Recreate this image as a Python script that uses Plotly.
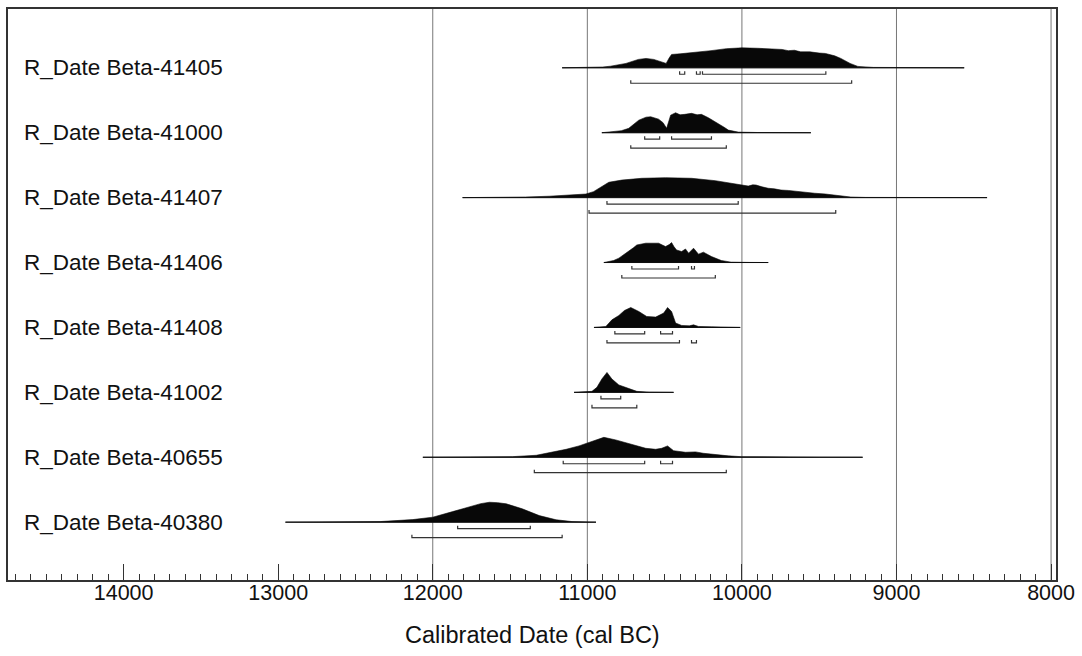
import plotly.graph_objects as go

# ---------------- data ----------------
labels = ["R_Date Beta-41405", "R_Date Beta-41000", "R_Date Beta-41407",
          "R_Date Beta-41406", "R_Date Beta-41408", "R_Date Beta-41002",
          "R_Date Beta-40655", "R_Date Beta-40380"]

b41405_years = [11163, 11000, 10900, 10850, 10750, 10670, 10620, 10570, 10520, 10490, 10470, 10455,
                10400, 10350, 10280, 10200, 10100, 10000, 9900, 9800, 9740, 9700, 9660, 9620, 9560,
                9500, 9460, 9400, 9360, 9300, 9250, 9150, 9000, 8800, 8562]
b41405_prob = [0, 0.01, 0.04, 0.08, 0.22, 0.42, 0.47, 0.42, 0.30, 0.22, 0.50, 0.67,
               0.70, 0.74, 0.77, 0.86, 0.96, 1.0, 0.98, 0.95, 0.92, 0.86, 0.88, 0.80, 0.80,
               0.74, 0.72, 0.60, 0.47, 0.22, 0.07, 0.02, 0.008, 0.003, 0]
b41405_r68 = [[10403, 10370], [10294, 10270], [10255, 9457]]
b41405_r95 = [[10719, 9290]]

b41000_years = [10906, 10841, 10780, 10732, 10690, 10667, 10620, 10590, 10539, 10510, 10487, 10470,
                10461, 10429, 10400, 10370, 10326, 10290, 10262, 10217, 10152, 10110, 10088, 10024,
                9900, 9700, 9554]
b41000_prob = [0, 0.04, 0.10, 0.22, 0.50, 0.63, 0.78, 0.80, 0.68, 0.50, 0.22, 0.60,
               0.88, 1.0, 0.90, 0.92, 0.97, 0.90, 0.92, 0.75, 0.47, 0.25, 0.13, 0.03,
               0.01, 0.005, 0]
b41000_r68 = [[10629, 10532], [10455, 10197]]
b41000_r95 = [[10719, 10101]]

b41407_years = [11807, 11600, 11400, 11247, 11100, 11009, 10960, 10925, 10861, 10777, 10648, 10494,
                10326, 10172, 10100, 10043, 9980, 9959, 9930, 9908, 9870, 9830, 9790, 9747, 9700,
                9637, 9580, 9530, 9460, 9399, 9296, 9200, 9000, 8700, 8414]
b41407_prob = [0, 0.01, 0.03, 0.07, 0.12, 0.18, 0.30, 0.47, 0.77, 0.88, 0.97, 1.0,
               0.97, 0.85, 0.76, 0.67, 0.60, 0.58, 0.64, 0.63, 0.54, 0.47, 0.44, 0.38, 0.36,
               0.30, 0.27, 0.22, 0.18, 0.13, 0.03, 0.01, 0.004, 0.002, 0]
b41407_r68 = [[10873, 10024]]
b41407_r95 = [[10989, 9393]]

b41406_years = [10893, 10880, 10830, 10796, 10732, 10700, 10680, 10622, 10539, 10510, 10494, 10470,
                10455, 10440, 10423, 10390, 10365, 10345, 10325, 10313, 10295, 10281, 10249, 10197,
                10133, 10069, 9950, 9830]
b41406_prob = [0, 0.02, 0.10, 0.22, 0.55, 0.75, 0.88, 0.97, 0.97, 0.88, 0.80, 0.90,
               1.0, 0.80, 0.63, 0.55, 0.68, 0.47, 0.60, 0.72, 0.55, 0.42, 0.52, 0.30,
               0.10, 0.02, 0.005, 0]
b41406_r68 = [[10712, 10410], [10326, 10307]]
b41406_r95 = [[10777, 10172]]

b41408_years = [10957, 10900, 10880, 10841, 10796, 10760, 10719, 10667, 10616, 10558, 10506, 10490,
                10481, 10455, 10440, 10429, 10390, 10340, 10313, 10281, 10197, 10100, 10011]
b41408_prob = [0, 0.02, 0.05, 0.38, 0.60, 0.85, 1.0, 0.80, 0.55, 0.52, 0.72, 0.90,
               1.0, 0.80, 0.50, 0.22, 0.10, 0.08, 0.13, 0.05, 0.03, 0.01, 0]
b41408_r68 = [[10822, 10629], [10526, 10449]]
b41408_r95 = [[10873, 10404], [10326, 10294]]

b41002_years = [11086, 11000, 10970, 10938, 10906, 10873, 10841, 10796, 10732, 10680, 10600, 10442]
b41002_prob = [0, 0.01, 0.05, 0.25, 0.67, 1.0, 0.67, 0.37, 0.20, 0.05, 0.01, 0]
b41002_r68 = [[10912, 10784]]
b41002_r95 = [[10970, 10680]]

b40655_years = [12064, 11800, 11600, 11485, 11330, 11227, 11137, 11054, 10970, 10893, 10816, 10732,
                10622, 10558, 10519, 10481, 10460, 10442, 10365, 10300, 10250, 10197, 10088, 10004,
                9800, 9500, 9219]
b40655_prob = [0, 0.005, 0.015, 0.03, 0.10, 0.25, 0.40, 0.57, 0.78, 1.0, 0.87, 0.70,
               0.45, 0.40, 0.45, 0.57, 0.45, 0.33, 0.25, 0.27, 0.20, 0.15, 0.07, 0.03,
               0.01, 0.003, 0]
b40655_r68 = [[11156, 10629], [10526, 10449]]
b40655_r95 = [[11343, 10101]]

b40380_years = [12953, 12700, 12500, 12341, 12129, 12000, 11871, 11762, 11690, 11633, 11580, 11524,
                11421, 11311, 11202, 11099, 10944]
b40380_prob = [0, 0.005, 0.015, 0.03, 0.13, 0.25, 0.53, 0.78, 0.93, 1.0, 0.98, 0.92,
               0.67, 0.33, 0.12, 0.03, 0]
b40380_r68 = [[11839, 11369]]
b40380_r95 = [[12135, 11163]]

grid_years = [12000, 11000, 10000, 9000, 8000]

rows = [
    (labels[0], b41405_years, b41405_prob, b41405_r68, b41405_r95),
    (labels[1], b41000_years, b41000_prob, b41000_r68, b41000_r95),
    (labels[2], b41407_years, b41407_prob, b41407_r68, b41407_r95),
    (labels[3], b41406_years, b41406_prob, b41406_r68, b41406_r95),
    (labels[4], b41408_years, b41408_prob, b41408_r68, b41408_r95),
    (labels[5], b41002_years, b41002_prob, b41002_r68, b41002_r95),
    (labels[6], b40655_years, b40655_prob, b40655_r68, b40655_r95),
    (labels[7], b40380_years, b40380_prob, b40380_r68, b40380_r95),
]

# ---------------- layout constants ----------------
ROW0 = 59.0        # first baseline (y units = px from top of plot area)
ROW_STEP = 65.14
PEAK_H = 20.0
OFF68 = 6.5
OFF95 = 15.5
TICK_H = 3.0
FONT = "Liberation Sans, Arial, sans-serif"

fig = go.Figure()
annotations = []

for i, (lab, yrs, prob, r68, r95) in enumerate(rows):
    base = ROW0 + ROW_STEP * i
    fig.add_trace(go.Scatter(x=[yrs[0], yrs[-1]], y=[base, base], mode="lines",
                             line=dict(color="#222", width=1), hoverinfo="skip", showlegend=False))
    px = list(yrs) + [yrs[-1], yrs[0]]
    py = [base - p * PEAK_H for p in prob] + [base, base]
    fig.add_trace(go.Scatter(x=px, y=py, mode="lines", fill="toself", fillcolor="#080808",
                             line=dict(color="#080808", width=0.6), hoverinfo="skip", showlegend=False))
    for rng, off in ((r68, OFF68), (r95, OFF95)):
        bx, by = [], []
        yb = base + off
        for a, b in rng:
            bx += [a, a, b, b, None]
            by += [yb - TICK_H, yb, yb, yb - TICK_H, None]
        fig.add_trace(go.Scatter(x=bx, y=by, mode="lines", line=dict(color="#333", width=1.2),
                                 hoverinfo="skip", showlegend=False))
    annotations.append(dict(x=0, xref="paper", xshift=14, xanchor="left",
                            y=base, yref="y", yanchor="middle", text=lab, showarrow=False,
                            font=dict(family=FONT, size=22.5, color="#111")))

shapes = [dict(type="line", xref="x", yref="paper", x0=g, x1=g, y0=0, y1=1,
               line=dict(color="#777", width=1), layer="below") for g in grid_years]

annotations.append(dict(x=0.5, xref="paper", y=0, yref="paper", yshift=-55, yanchor="middle",
                        text="Calibrated Date (cal BC)", showarrow=False,
                        font=dict(family=FONT, size=23.5, color="#111")))

fig.update_layout(
    width=1082, height=656,
    margin=dict(l=8, r=24, t=7, b=76),
    paper_bgcolor="white", plot_bgcolor="white",
    shapes=shapes, annotations=annotations,
    showlegend=False,
    xaxis=dict(range=[14748, 7968], showgrid=False, zeroline=False,
               showline=True, mirror=True, linecolor="#333", linewidth=1.5,
               ticks="inside", tickmode="linear", tick0=8000, dtick=1000, ticklen=16,
               tickformat="d", tickcolor="#333", tickwidth=1, ticklabelstandoff=-8,
               minor=dict(ticks="inside", dtick=100, ticklen=6, tickcolor="#333", tickwidth=1),
               tickfont=dict(family=FONT, size=21.5, color="#111")),
    yaxis=dict(range=[573, 0], showgrid=False, zeroline=False, showticklabels=False,
               showline=True, mirror=True, linecolor="#333", linewidth=1.5, ticks=""),
)

fig.write_html("out.html", config={"displayModeBar": False},
               post_script="document.body.style.margin='0px';")
